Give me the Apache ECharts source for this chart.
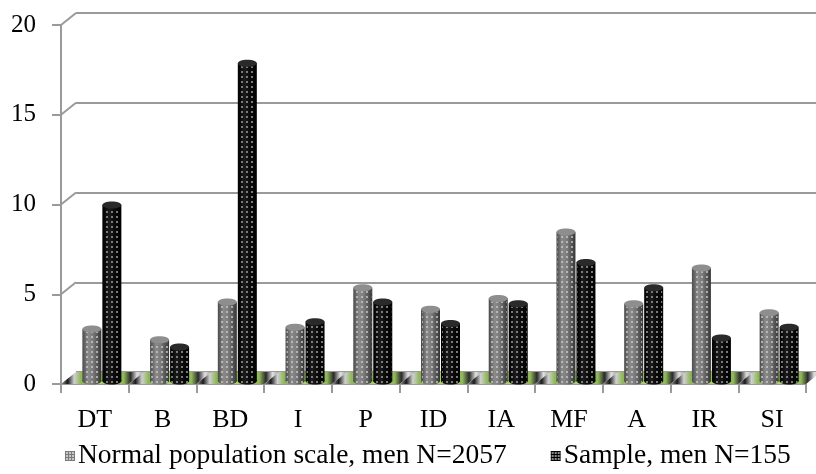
<!DOCTYPE html>
<html>
<head>
<meta charset="utf-8">
<script src="https://cdn.jsdelivr.net/npm/echarts@6/dist/echarts.min.js"></script>
<style>
  html, body { margin: 0; padding: 0; background: #fff; }
  #chart { width: 816px; height: 474px; }
</style>
</head>
<body>
<div id="chart"></div>
<script>
// Scale categories
const categories = ['DT', 'B', 'BD', 'I', 'P', 'ID', 'IA', 'MF', 'A', 'IR', 'SI'];
// Normal population scale, men N=2057
const normalValues = [2.9, 2.3, 4.4, 3.0, 5.2, 4.0, 4.6, 8.3, 4.3, 6.3, 3.8];
// Sample, men N=155
const sampleValues = [9.8, 1.9, 17.7, 3.3, 4.4, 3.2, 4.3, 6.6, 5.2, 2.4, 3.0];
const yTicks = [0, 5, 10, 15, 20];
const seriesNames = ['Normal population scale, men N=2057', 'Sample, men N=155'];

const FONT = '"Liberation Serif", "Times New Roman", serif';
const LINE = '#9a9a9a';
const DEPTH_X = 15, DEPTH_Y = -12;

// small dotted tile used as the cylinder surface texture
function dotTile(bg, dot, size) {
  const c = document.createElement('canvas');
  c.width = size; c.height = size;
  const g = c.getContext('2d');
  if (bg) { g.fillStyle = bg; g.fillRect(0, 0, size, size); }
  g.fillStyle = dot;
  g.fillRect(1, 1, 2, 2);
  return c;
}
const grayDots = dotTile(null, 'rgba(200,200,200,0.75)', 5);
const blackDots = dotTile(null, 'rgba(150,150,150,0.8)', 5);
const grayIcon = dotTile('#7a7a7a', '#c8c8c8', 3);
const blackIcon = dotTile('#000', '#8a8a8a', 3);

function hGrad(stops) {
  return new echarts.graphic.LinearGradient(0, 0, 1, 0,
    stops.map(s => ({ offset: s[0], color: s[1] })));
}
const grayBody = [[0, '#4a4a4a'], [0.3, '#8a8a8a'], [0.55, '#7c7c7c'], [1, '#353535']];
const blackBody = [[0, '#000'], [0.35, '#1c1c1c'], [0.6, '#0c0c0c'], [1, '#000']];

function cylinder(dx, body, dots, topColor) {
  return function (params, api) {
    const i = api.value(0);
    const v = api.value(1);
    const top = api.coord([i, v]);
    const base = api.coord([i, 0]);
    const w = 19, ry = 3.5;
    const cx = top[0] + dx;
    const x = cx - w / 2;
    const h = base[1] - top[1];
    return {
      type: 'group',
      children: [
        { type: 'ellipse', shape: { cx: cx, cy: base[1], rx: w / 2, ry: ry }, style: { fill: hGrad(body) } },
        { type: 'rect', shape: { x: x, y: top[1], width: w, height: h }, style: { fill: hGrad(body) } },
        { type: 'rect', shape: { x: x + 1, y: top[1] + 3, width: w - 2, height: h }, style: { fill: { image: dots, repeat: 'repeat' } } },
        { type: 'ellipse', shape: { cx: cx, cy: top[1], rx: w / 2, ry: ry }, style: { fill: topColor } }
      ]
    };
  };
}

const chart = echarts.init(document.getElementById('chart'), null, { renderer: 'canvas' });

const option = {
  animation: false,
  backgroundColor: '#fff',
  legend: {
    top: 437,
    left: 60,
    itemWidth: 10,
    itemHeight: 10,
    itemGap: 44,
    icon: 'rect',
    textStyle: { fontFamily: FONT, fontSize: 27.5, color: '#000', padding: [0, 0, 0, -2] },
    data: [
      { name: seriesNames[0], itemStyle: { color: { image: grayIcon, repeat: 'repeat' } } },
      { name: seriesNames[1], itemStyle: { color: { image: blackIcon, repeat: 'repeat' } } }
    ]
  },
  grid: [
    // front plane: axes
    { left: 61, right: 10, top: 25, bottom: 90 },
    // back wall: gridlines
    { left: 61 + DEPTH_X, right: 10 - DEPTH_X, top: 25 + DEPTH_Y, bottom: 90 - DEPTH_Y },
    // mid depth: columns
    { left: 68, right: 3, top: 22, bottom: 93 }
  ],
  xAxis: [
    {
      gridIndex: 0, type: 'category', data: categories,
      axisLine: { show: true, lineStyle: { color: LINE, width: 2 } },
      axisTick: { show: true, length: 9, lineStyle: { color: LINE, width: 2 } },
      axisLabel: { fontFamily: FONT, fontSize: 26, color: '#000', margin: 23 },
      splitLine: { show: false }
    },
    { gridIndex: 1, type: 'category', data: categories, show: false },
    { gridIndex: 2, type: 'category', data: categories, show: false }
  ],
  yAxis: [
    {
      gridIndex: 0, type: 'value', min: 0, max: 20, interval: 5,
      axisLine: { show: true, lineStyle: { color: LINE, width: 2 } },
      axisTick: { show: true, length: 9, lineStyle: { color: LINE, width: 2 } },
      axisLabel: { fontFamily: FONT, fontSize: 25, color: '#000', margin: 25 },
      splitLine: { show: false }
    },
    {
      gridIndex: 1, type: 'value', min: 0, max: 20, interval: 5,
      axisLine: { show: false }, axisTick: { show: false }, axisLabel: { show: false },
      splitLine: { show: true, lineStyle: { color: LINE, width: 2 } }
    },
    { gridIndex: 2, type: 'value', min: 0, max: 20, interval: 5, show: false }
  ],
  series: [
    // side wall connectors from the front axis to the back gridlines
    {
      type: 'custom', xAxisIndex: 0, yAxisIndex: 0, silent: true, z: 1,
      data: yTicks.filter(t => t > 0).map(t => [0, t]),
      renderItem: function (params, api) {
        const p = api.coord([0, api.value(1)]);
        const x0 = params.coordSys.x;
        return {
          type: 'line',
          shape: { x1: x0, y1: p[1], x2: x0 + DEPTH_X, y2: p[1] + DEPTH_Y },
          style: { stroke: LINE, lineWidth: 2 }
        };
      }
    },
    // floor slab
    {
      type: 'custom', xAxisIndex: 0, yAxisIndex: 0, silent: true, z: 2,
      data: categories.map((c, i) => [i, 0]),
      renderItem: function (params, api) {
        const i = api.value(0);
        const p = api.coord([i, 0]);
        const cw = api.size([1, 0])[0];
        const x0 = p[0] - cw / 2, x1 = p[0] + cw / 2;
        const y = p[1];
        const fill = new echarts.graphic.LinearGradient(0, 0, 1, 0, [
          { offset: 0, color: '#9a9a9a' },
          { offset: 0.08, color: '#1a1a1a' },
          { offset: 0.16, color: '#d0d0d0' },
          { offset: 0.24, color: '#8fb65a' },
          { offset: 0.5, color: '#a6d46a' },
          { offset: 0.76, color: '#8fb65a' },
          { offset: 0.84, color: '#2a2a2a' },
          { offset: 0.92, color: '#e0e0e0' },
          { offset: 1, color: '#9a9a9a' }
        ]);
        return {
          type: 'polygon',
          shape: { points: [[x0, y], [x1, y], [x1 + DEPTH_X, y + DEPTH_Y], [x0 + DEPTH_X, y + DEPTH_Y]] },
          style: { fill: fill }
        };
      }
    },
    {
      name: seriesNames[0], type: 'custom', xAxisIndex: 2, yAxisIndex: 2, z: 3,
      itemStyle: { color: { image: grayIcon, repeat: 'repeat' } },
      data: normalValues.map((v, i) => [i, v]),
      renderItem: cylinder(-10, grayBody, grayDots, '#8e8e8e')
    },
    {
      name: seriesNames[1], type: 'custom', xAxisIndex: 2, yAxisIndex: 2, z: 4,
      itemStyle: { color: { image: blackIcon, repeat: 'repeat' } },
      data: sampleValues.map((v, i) => [i, v]),
      renderItem: cylinder(10, blackBody, blackDots, '#2a2a2a')
    }
  ]
};

chart.setOption(option);
</script>
</body>
</html>
